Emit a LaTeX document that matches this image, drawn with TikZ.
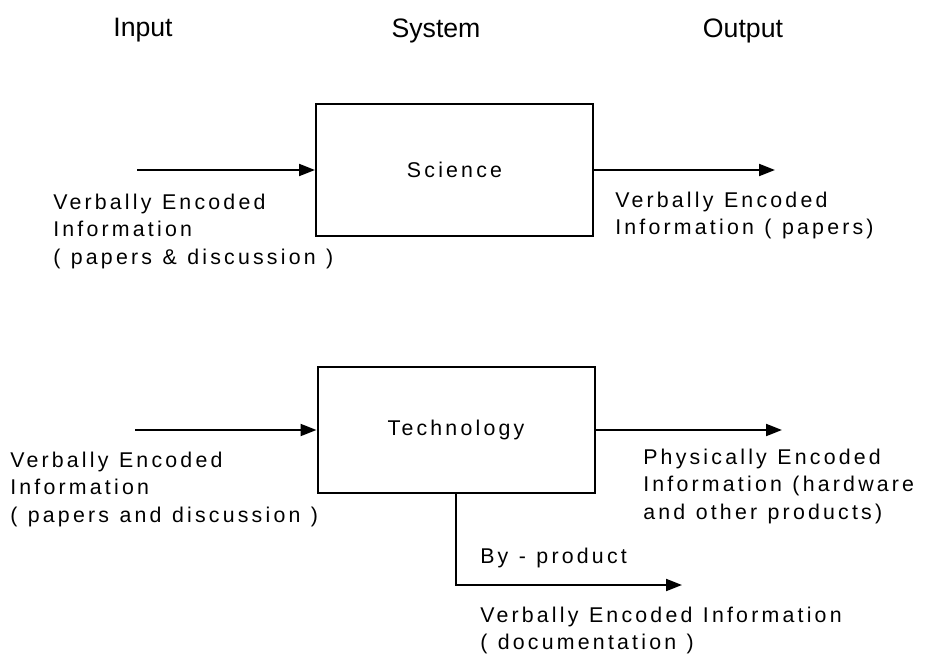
\documentclass[tikz,border=0pt]{standalone}
\usepackage{fontspec}
\setmainfont{Liberation Sans}
\newfontfamily\lblfont[LetterSpace=15,WordSpace=1.15]{Liberation Sans}
\usetikzlibrary{arrows.meta}
\tikzset{
  px/.style={x=0.75pt,y=-0.75pt},
  sysbox/.style={draw,line width=1.5pt,rectangle,inner sep=0pt,
    font=\lblfont\fontsize{16}{20}\selectfont},
  flow/.style={line width=1.5pt,-{Triangle[length=12pt,width=9pt]}},
  hdr/.style={inner sep=0pt,font=\fontsize{20}{22}\selectfont},
  lbl/.style={inner sep=0pt,anchor=north west,align=left,
    font=\lblfont\fontsize{16}{20.4}\selectfont}
}
\begin{document}
\begin{tikzpicture}[px]
\useasboundingbox (0,0) rectangle (925,656);
% headers
\node[hdr] (hin) at (143,30) {Input};
\node[hdr] (hsys) at (436,31) {System};
\node[hdr] (hout) at (743,31) {Output};
% boxes
\node[sysbox,minimum width=207.75pt,minimum height=99pt] (sci) at (454.5,170) {Science};
\node[sysbox,minimum width=207.75pt,minimum height=94.5pt] (tech) at (456,430) {Technology};
% connector end points
\coordinate (sinS) at (137,170);
\coordinate (soutS) at (775,170);
\coordinate (sinT) at (135,430);
\coordinate (soutT) at (782,430);
\coordinate (bpend) at (682,585);
% connectors
\draw[flow] (sinS) -- (sci.west);
\draw[flow] (sci.east) -- (soutS);
\draw[flow] (sinT) -- (tech.west);
\draw[flow] (tech.east) -- (soutT);
\draw[flow] (tech.south) |- (bpend);
% labels
\node[lbl] (linS) at (53,194) {Verbally Encoded\\Information\\( papers \& discussion )};
\node[lbl] (loutS) at (615,192) {Verbally Encoded\\Information ( papers)};
\node[lbl] (linT) at (10,452) {Verbally Encoded\\Information\\( papers and discussion )};
\node[lbl] (loutT) at (643,449) {Physically Encoded\\Information (hardware\\and other products)};
\node[lbl] (lbp) at (480,548) {By - product};
\node[lbl] (lbpout) at (480,607) {Verbally Encoded Information\\( documentation )};
\end{tikzpicture}
\end{document}
